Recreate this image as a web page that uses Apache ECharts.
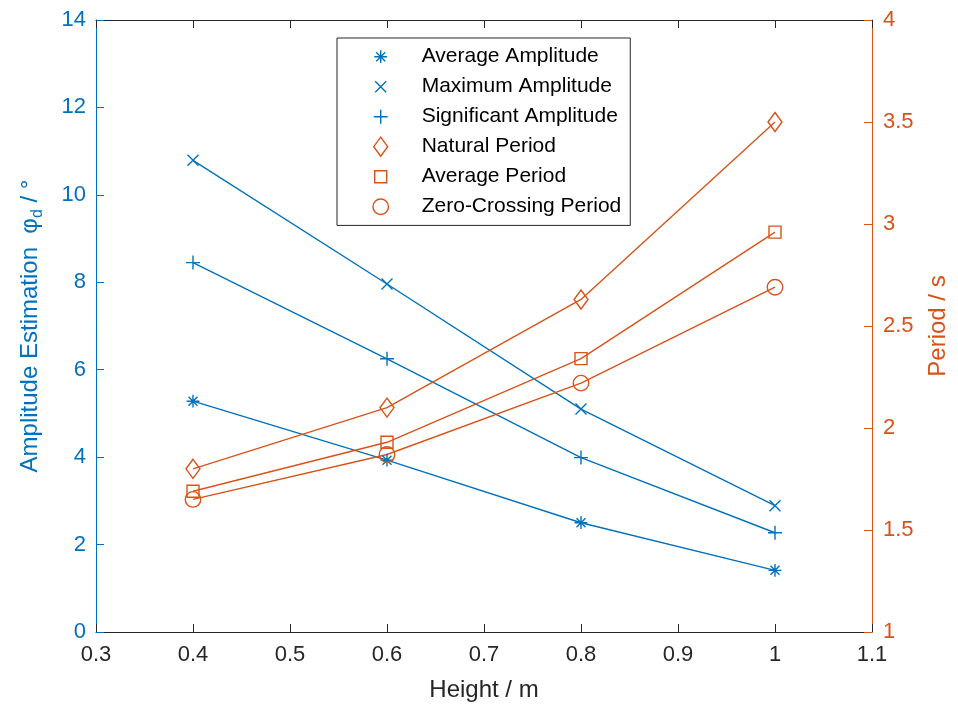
<!DOCTYPE html>
<html>
<head>
<meta charset="utf-8">
<script src="https://cdn.jsdelivr.net/npm/echarts@6/dist/echarts.min.js"></script>
<style>
  html, body { margin: 0; padding: 0; background: #fff; }
  #chart { width: 958px; height: 709px; }
</style>
</head>
<body>
<div id="chart"></div>
<script>
// Wave height (m) against amplitude estimates (left axis) and periods (right axis)
const heights = [0.4, 0.6, 0.8, 1.0];

const averageAmplitude     = [5.28, 3.93, 2.50, 1.41];
const maximumAmplitude     = [10.79, 7.96, 5.10, 2.89];
const significantAmplitude = [8.45, 6.25, 3.99, 2.27];

const naturalPeriod      = [1.80, 2.10, 2.63, 3.50];
const averagePeriod      = [1.69, 1.93, 2.34, 2.96];
const zeroCrossingPeriod = [1.65, 1.87, 2.22, 2.69];

const seriesNames = [
  'Average Amplitude', 'Maximum Amplitude', 'Significant Amplitude',
  'Natural Period', 'Average Period', 'Zero-Crossing Period'
];

const BLUE = '#0072BD';
const ORANGE = '#D95319';
const AXIS = '#262626';
const FONT = '"Liberation Sans", Arial, Helvetica, sans-serif';

// Marker outlines drawn in a shared 20x20 box (the trailing moves fix the box)
const BOX = 'M0,0M20,20';
const markers = {
  asterisk: 'path://M10,3.6V16.4M3.6,10H16.4M5.5,5.5L14.5,14.5M14.5,5.5L5.5,14.5' + BOX,
  cross:    'path://M4.5,4.5L15.5,15.5M15.5,4.5L4.5,15.5' + BOX,
  plus:     'path://M10,3V17M3,10H17' + BOX,
  diamond:  'path://M10,0.5L17,10L10,19.5L3,10Z' + BOX,
  square:   'path://M4,4H16V16H4Z' + BOX,
  circle:   'path://M17.75,10A7.75,7.75 0 1 1 2.25,10A7.75,7.75 0 1 1 17.75,10Z' + BOX
};

const seriesDefs = [
  { name: seriesNames[0], values: averageAmplitude,     axis: 0, color: BLUE,   symbol: markers.asterisk },
  { name: seriesNames[1], values: maximumAmplitude,     axis: 0, color: BLUE,   symbol: markers.cross },
  { name: seriesNames[2], values: significantAmplitude, axis: 0, color: BLUE,   symbol: markers.plus },
  { name: seriesNames[3], values: naturalPeriod,        axis: 1, color: ORANGE, symbol: markers.diamond },
  { name: seriesNames[4], values: averagePeriod,        axis: 1, color: ORANGE, symbol: markers.square },
  { name: seriesNames[5], values: zeroCrossingPeriod,   axis: 1, color: ORANGE, symbol: markers.circle }
];

const hollow = (color) => ({ color: 'rgba(0,0,0,0)', borderColor: color, borderWidth: 1.4 });

const chart = echarts.init(document.getElementById('chart'), null, { renderer: 'canvas' });

chart.setOption({
  animation: false,
  backgroundColor: '#fff',
  textStyle: { fontFamily: FONT },
  grid: { left: 96, right: 86, top: 20, bottom: 77, containLabel: false },
  legend: {
    orient: 'vertical',
    left: 337,
    top: 38,
    padding: [8, 9, 8, 33],
    itemWidth: 20,
    itemHeight: 20,
    itemGap: 8.6,
    selectedMode: false,
    backgroundColor: '#fff',
    borderColor: AXIS,
    borderWidth: 1,
    textStyle: { fontSize: 21, color: '#000', fontFamily: FONT, padding: [0, 0, 0, 26] },
    data: seriesDefs.map(s => ({ name: s.name, icon: s.symbol, itemStyle: hollow(s.color) }))
  },
  xAxis: [
    {
      type: 'value', position: 'bottom', min: 0.3, max: 1.1, interval: 0.1,
      name: 'Height / m', nameLocation: 'middle', nameGap: 46,
      nameTextStyle: { color: AXIS, fontSize: 24, fontFamily: FONT },
      axisLine: { onZero: false, lineStyle: { color: AXIS, width: 1 } },
      axisTick: { inside: true, length: 8, lineStyle: { color: AXIS, width: 1 } },
      axisLabel: { color: AXIS, fontSize: 22, margin: 12, fontFamily: FONT },
      splitLine: { show: false }
    },
    {
      type: 'value', position: 'top', min: 0.3, max: 1.1, interval: 0.1,
      axisLine: { onZero: false, lineStyle: { color: AXIS, width: 1 } },
      axisTick: { inside: true, length: 8, lineStyle: { color: AXIS, width: 1 } },
      axisLabel: { show: false },
      splitLine: { show: false }
    }
  ],
  yAxis: [
    {
      type: 'value', position: 'left', min: 0, max: 14, interval: 2,
      name: '{a|Amplitude Estimation  φ}{s|d}{a| / °}',
      nameLocation: 'middle', nameRotate: 90, nameGap: 50,
      nameTextStyle: {
        color: BLUE, fontSize: 24, fontFamily: FONT,
        rich: {
          a: { color: BLUE, fontSize: 24, fontFamily: FONT, verticalAlign: 'top' },
          s: { color: BLUE, fontSize: 16, fontFamily: FONT, verticalAlign: 'top', padding: [12, 0, 0, 0] }
        }
      },
      axisLine: { show: true, onZero: false, lineStyle: { color: BLUE, width: 1 } },
      axisTick: { show: true, inside: true, length: 8, lineStyle: { color: BLUE, width: 1 } },
      axisLabel: { color: BLUE, fontSize: 22, margin: 10, fontFamily: FONT },
      splitLine: { show: false }
    },
    {
      type: 'value', position: 'right', min: 1, max: 4, interval: 0.5,
      name: 'Period / s',
      nameLocation: 'middle', nameRotate: 90, nameGap: 54,
      nameTextStyle: { color: ORANGE, fontSize: 24, fontFamily: FONT },
      axisLine: { show: true, onZero: false, lineStyle: { color: ORANGE, width: 1 } },
      axisTick: { show: true, inside: true, length: 8, lineStyle: { color: ORANGE, width: 1 } },
      axisLabel: { color: ORANGE, fontSize: 22, margin: 11, fontFamily: FONT },
      splitLine: { show: false }
    }
  ],
  series: seriesDefs.map(s => ({
    type: 'line',
    name: s.name,
    xAxisIndex: 0,
    yAxisIndex: s.axis,
    data: heights.map((h, i) => [h, s.values[i]]),
    symbol: s.symbol,
    symbolSize: 20,
    showAllSymbol: true,
    lineStyle: { color: s.color, width: 1.4 },
    itemStyle: hollow(s.color),
    emphasis: { disabled: true },
    z: 3
  }))
});
</script>
</body>
</html>
